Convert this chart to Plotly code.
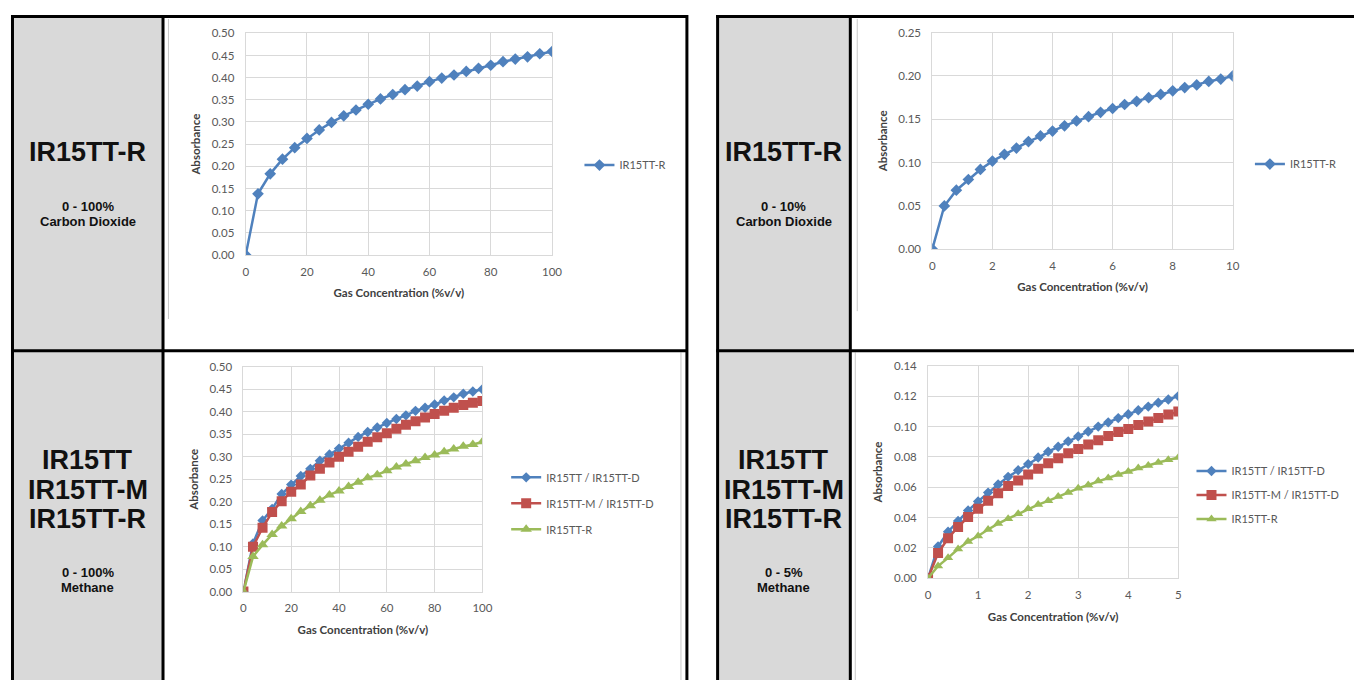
import plotly.graph_objects as go

# page body keeps its default 8px margin, so the figure is drawn 8px in
OFF = 8
W, H = 1362 - 2 * OFF, 688 - 2 * OFF

# ---------------- data ----------------
x_co2_100 = [i * 4 for i in range(26)]
y_co2_100 = [0.000, 0.138, 0.183, 0.216, 0.242, 0.263, 0.282, 0.299, 0.314, 0.327,
             0.340, 0.352, 0.362, 0.373, 0.381, 0.391, 0.399, 0.406, 0.414, 0.421,
             0.428, 0.436, 0.442, 0.447, 0.454, 0.459]

x_co2_10 = [round(i * 0.4, 1) for i in range(26)]
y_co2_10 = [0.000, 0.0498, 0.068, 0.0804, 0.092, 0.1016, 0.1095, 0.1167, 0.1242, 0.1307,
            0.1363, 0.1424, 0.148, 0.153, 0.158, 0.1624, 0.167, 0.1707, 0.1749, 0.1786,
            0.1828, 0.1866, 0.1896, 0.1937, 0.1964, 0.200]

x_ch4_100 = [i * 4 for i in range(26)]
y_ch4_100_tt = [0.000, 0.107, 0.158, 0.184, 0.217, 0.238, 0.257, 0.273, 0.291, 0.305,
                0.318, 0.331, 0.344, 0.355, 0.365, 0.375, 0.384, 0.392, 0.402, 0.409,
                0.416, 0.425, 0.432, 0.440, 0.445, 0.450]
y_ch4_100_m = [0.000, 0.100, 0.142, 0.177, 0.201, 0.222, 0.238, 0.258, 0.273, 0.287,
               0.300, 0.311, 0.322, 0.333, 0.343, 0.352, 0.362, 0.371, 0.379, 0.387,
               0.395, 0.402, 0.409, 0.415, 0.420, 0.424]
y_ch4_100_r = [0.000, 0.078, 0.104, 0.127, 0.146, 0.162, 0.178, 0.191, 0.203, 0.215,
               0.224, 0.234, 0.243, 0.253, 0.260, 0.269, 0.277, 0.284, 0.291, 0.298,
               0.304, 0.311, 0.317, 0.323, 0.327, 0.333]

x_ch4_5 = [round(i * 0.2, 1) for i in range(26)]
y_ch4_5_tt = [0.000, 0.0209, 0.0306, 0.0377, 0.0446, 0.0506, 0.0564, 0.0618, 0.0668, 0.0711,
              0.0752, 0.0795, 0.0834, 0.0866, 0.0902, 0.0935, 0.0967, 0.0999, 0.1027, 0.1055,
              0.1081, 0.1107, 0.1131, 0.1157, 0.1178, 0.1200]
y_ch4_5_m = [0.000, 0.0166, 0.0263, 0.0338, 0.0403, 0.0457, 0.0510, 0.0560, 0.0607, 0.0644,
             0.0683, 0.0722, 0.0758, 0.0790, 0.0823, 0.0851, 0.0881, 0.0909, 0.0937, 0.0963,
             0.0984, 0.1010, 0.1032, 0.1055, 0.1079, 0.1098]
y_ch4_5_r = [0.000, 0.0080, 0.0134, 0.0192, 0.0241, 0.0278, 0.0321, 0.0360, 0.0392, 0.0424,
             0.0457, 0.0485, 0.0510, 0.0538, 0.0564, 0.0592, 0.0614, 0.0640, 0.0661, 0.0683,
             0.0704, 0.0726, 0.0743, 0.0762, 0.0780, 0.0795]

name_r = "IR15TT-R"
name_tt = "IR15TT / IR15TT-D"
name_m = "IR15TT-M / IR15TT-D"

x_title = "Gas Concentration (%v/v)"
y_title = "Absorbance"

BLUE, RED, GREEN = "#4F81BD", "#C0504D", "#9BBB59"
GRID = "#d9d9d9"
TXT = "#595959"
FONT = "Lato"


def px(x):
    return (x - OFF) / W


def py(y):
    return 1 - (y - OFF) / H


fig = go.Figure()

# ---------------- traces ----------------
fig.add_trace(go.Scatter(x=x_co2_100, y=y_co2_100, name=name_r, mode="lines+markers",
                         line=dict(color=BLUE, width=2.5),
                         marker=dict(symbol="diamond", size=9, color=BLUE),
                         xaxis="x", yaxis="y", legend="legend"))
fig.add_trace(go.Scatter(x=x_co2_10, y=y_co2_10, name=name_r, mode="lines+markers",
                         line=dict(color=BLUE, width=2.5),
                         marker=dict(symbol="diamond", size=9, color=BLUE),
                         xaxis="x2", yaxis="y2", legend="legend2"))

for i, (yy, nm, col, sym, sz) in enumerate([
        (y_ch4_100_tt, name_tt, BLUE, "diamond", 8),
        (y_ch4_100_m, name_m, RED, "square", 10),
        (y_ch4_100_r, name_r, GREEN, "triangle-up", 10)]):
    fig.add_trace(go.Scatter(x=x_ch4_100, y=yy, name=nm, mode="lines+markers",
                             line=dict(color=col, width=2.5),
                             marker=dict(symbol=sym, size=sz, color=col),
                             xaxis="x3", yaxis="y3", legend="legend3",
                             legendgroup="bl%d" % i))

for i, (yy, nm, col, sym, sz) in enumerate([
        (y_ch4_5_tt, name_tt, BLUE, "diamond", 8),
        (y_ch4_5_m, name_m, RED, "square", 10),
        (y_ch4_5_r, name_r, GREEN, "triangle-up", 9)]):
    fig.add_trace(go.Scatter(x=x_ch4_5, y=yy, name=nm, mode="lines+markers",
                             line=dict(color=col, width=2.5),
                             marker=dict(symbol=sym, size=sz, color=col),
                             xaxis="x4", yaxis="y4", legend="legend4",
                             legendgroup="br%d" % i))


# ---------------- axes ----------------
def xaxis(dom, rng, dtick, anchor):
    return dict(domain=dom, range=rng, dtick=dtick, tick0=0, anchor=anchor,
                showgrid=True, gridcolor=GRID, gridwidth=1,
                showline=True, linecolor=GRID, linewidth=1, mirror=True,
                zeroline=False, ticks="", ticklabelstandoff=6,
                tickfont=dict(family=FONT, size=11.5, color=TXT),
                title=dict(text=x_title, standoff=12,
                           font=dict(family=FONT, size=11.5, color="#404040", weight="bold")),
                fixedrange=True)


def yaxis(dom, rng, dtick, anchor):
    return dict(domain=dom, range=rng, dtick=dtick, tick0=0, anchor=anchor,
                showgrid=True, gridcolor=GRID, gridwidth=1,
                showline=True, linecolor=GRID, linewidth=1, mirror=True,
                zeroline=False, ticks="", ticklabelstandoff=8, tickformat=".2f",
                tickfont=dict(family=FONT, size=11.5, color=TXT),
                title=dict(text=y_title, standoff=8,
                           font=dict(family=FONT, size=11.5, color="#404040", weight="bold")),
                fixedrange=True)


layout = dict(
    width=W, height=H, margin=dict(l=0, r=0, t=0, b=0),
    paper_bgcolor="white", plot_bgcolor="white", showlegend=True,
    xaxis=xaxis([px(245), px(554.3)], [0, 100], 20, "y"),
    yaxis=yaxis([py(252.7), py(26.7)], [0, 0.5], 0.05, "x"),
    xaxis2=xaxis([px(938.3), px(1241.7)], [0, 10], 2, "y2"),
    yaxis2=yaxis([py(246.7), py(26)], [0, 0.25], 0.05, "x2"),
    xaxis3=xaxis([px(242.7), px(484)], [0, 100], 20, "y3"),
    yaxis3=yaxis([py(596), py(366.7)], [0, 0.5], 0.05, "x3"),
    xaxis4=xaxis([px(934), px(1186.7)], [0, 5], 1, "y4"),
    yaxis4=yaxis([py(582.3), py(365.7)], [0, 0.14], 0.02, "x4"),
)

legfont = dict(family=FONT, size=11, color=TXT)
layout["legend"] = dict(x=px(582), y=py(161), xanchor="left", yanchor="middle",
                        font=legfont, bgcolor="rgba(0,0,0,0)")
layout["legend2"] = dict(x=px(1259), y=py(160), xanchor="left", yanchor="middle",
                         font=legfont, bgcolor="rgba(0,0,0,0)")
layout["legend3"] = dict(x=px(508), y=py(506), xanchor="left", yanchor="middle",
                         font=legfont, bgcolor="rgba(0,0,0,0)", tracegroupgap=7)
layout["legend4"] = dict(x=px(1200), y=py(497.5), xanchor="left", yanchor="middle",
                         font=legfont, bgcolor="rgba(0,0,0,0)", tracegroupgap=5)
fig.update_layout(**layout)

# ---------------- table shapes ----------------
shapes = []
BW = 3


def rect(x0, y0, x1, y1, fill):
    shapes.append(dict(type="rect", xref="paper", yref="paper",
                       x0=px(x0), x1=px(x1), y0=py(y1), y1=py(y0),
                       fillcolor=fill, line=dict(width=0), layer="below"))


def line(x0, y0, x1, y1, color="black", width=BW):
    shapes.append(dict(type="line", xref="paper", yref="paper",
                       x0=px(x0), x1=px(x1), y0=py(y0), y1=py(y1),
                       line=dict(color=color, width=width), layer="above"))


# gray label cells
rect(9.5, 9.5, 161.5, 700, "#d9d9d9")
rect(721.5, 9.5, 855.5, 700, "#d9d9d9")

# thin chart-image edges
line(167, 12, 167, 318, "#c8c8c8", 1)
line(862.5, 12, 862.5, 310, "#c8c8c8", 1)
line(684.5, 352, 684.5, 700, "#c8c8c8", 1)
line(860.5, 352, 860.5, 700, "#c8c8c8", 1)

# left table
line(8, 9.5, 691.5, 9.5)
line(9.5, 8, 9.5, 700)
line(161.5, 8, 161.5, 700)
line(690.5, 8, 690.5, 700)
line(8, 350.5, 691.5, 350.5)
# right table
line(720, 9.5, 1370, 9.5)
line(721.5, 8, 721.5, 700)
line(855.5, 8, 855.5, 700)
line(720, 350.5, 1370, 350.5)

fig.update_layout(shapes=shapes)

# ---------------- label text ----------------
LBL = "Liberation Sans"


def label(x, y, text, size):
    fig.add_annotation(x=px(x), y=py(y), xref="paper", yref="paper",
                       text="<b>%s</b>" % text, showarrow=False,
                       xanchor="center", yanchor="middle",
                       font=dict(family=LBL, size=size, color="#111111"))


label(85.5, 148, "IR15TT-R", 27)
label(85.5, 203, "0 - 100%", 13)
label(85.5, 218.5, "Carbon Dioxide", 13)

label(788.5, 148, "IR15TT-R", 27)
label(788.5, 203, "0 - 10%", 13)
label(788.5, 218.5, "Carbon Dioxide", 13)

for cx, sub in [(85.5, "0 - 100%"), (788.5, "0 - 5%")]:
    label(cx, 462, "IR15TT", 27)
    label(cx, 492, "IR15TT-M", 27)
    label(cx, 521.5, "IR15TT-R", 27)
    label(cx, 577, sub, 13)
    label(cx, 591.5, "Methane", 13)

fig.write_html("out.html")
